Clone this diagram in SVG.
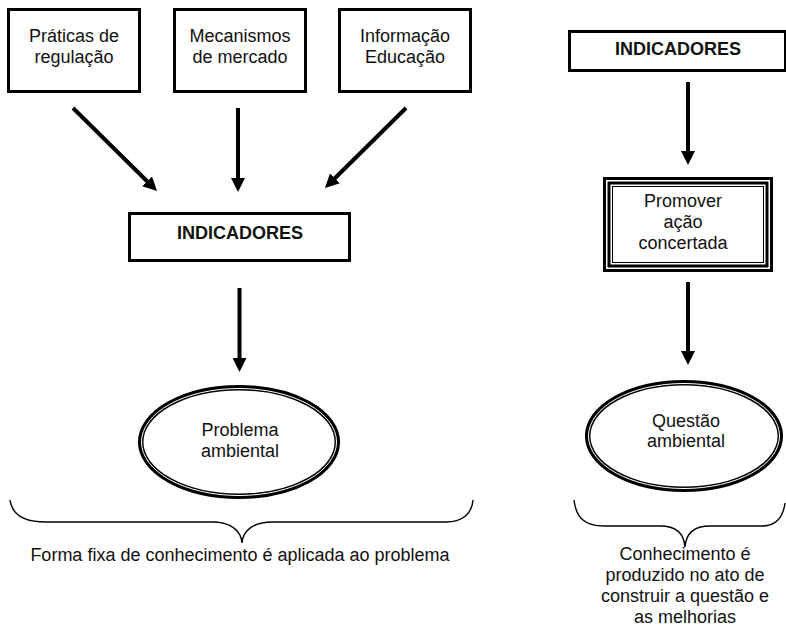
<svg xmlns="http://www.w3.org/2000/svg" width="786" height="626" viewBox="0 0 786 626">
  <style>
    .box { fill: #fff; stroke: #000; stroke-width: 3; }
    .t { font-family: "Liberation Sans", Arial, Helvetica, sans-serif; font-size: 18px; fill: #111; text-anchor: middle; }
    .b { font-weight: bold; }
    .arrow { stroke: #000; stroke-width: 4; fill: none; marker-end: url(#head); }
    .brace { fill: none; stroke: #000; stroke-width: 1.4; }
  </style>
  <defs>
    <marker id="head" markerUnits="userSpaceOnUse" markerWidth="14" markerHeight="14" refX="4" refY="7" orient="auto">
      <path d="M0,0 L14,7 L0,14 Z" fill="#000"/>
    </marker>
  </defs>
  <rect width="786" height="626" fill="#fff"/>

  <!-- left chain: three sources -->
  <g id="praticas">
    <rect class="box" x="8.5" y="9.5" width="131" height="82"/>
    <text class="t" x="74" y="42">Práticas de</text>
    <text class="t" x="74" y="63">regulação</text>
  </g>
  <g id="mecanismos">
    <rect class="box" x="174.5" y="9.5" width="131" height="82"/>
    <text class="t" x="240" y="42">Mecanismos</text>
    <text class="t" x="240" y="63">de mercado</text>
  </g>
  <g id="informacao">
    <rect class="box" x="339.5" y="9.5" width="131" height="82"/>
    <text class="t" x="405" y="42">Informação</text>
    <text class="t" x="405" y="63">Educação</text>
  </g>

  <g id="indicadores-left">
    <rect class="box" x="129.5" y="213.5" width="220" height="47"/>
    <text class="t b" x="240" y="239">INDICADORES</text>
  </g>

  <g id="problema">
    <ellipse cx="239" cy="442" rx="98.3" ry="54.3" fill="#fff" stroke="#000" stroke-width="5.5"/>
    <ellipse cx="239" cy="442" rx="97.5" ry="53.5" fill="none" stroke="#fff" stroke-width="1"/>
    <text class="t" x="240" y="436">Problema</text>
    <text class="t" x="240" y="457">ambiental</text>
  </g>

  <!-- right chain -->
  <g id="indicadores-right">
    <rect class="box" x="569.5" y="31.5" width="216" height="39"/>
    <text class="t b" x="678" y="55">INDICADORES</text>
  </g>

  <g id="promover">
    <rect x="608" y="182" width="160" height="85" fill="#fff" stroke="#000" stroke-width="10"/>
    <rect x="606.75" y="180.75" width="162.5" height="87.5" fill="none" stroke="#fff" stroke-width="1.5"/>
    <rect x="611.25" y="185.25" width="153.5" height="78.5" fill="none" stroke="#fff" stroke-width="1.5"/>
    <text class="t" x="683" y="207">Promover</text>
    <text class="t" x="683" y="228">ação</text>
    <text class="t" x="683" y="249">concertada</text>
  </g>

  <g id="questao">
    <ellipse cx="684" cy="436" rx="96.3" ry="53.3" fill="#fff" stroke="#000" stroke-width="5.5"/>
    <ellipse cx="684" cy="436" rx="95.5" ry="52.5" fill="none" stroke="#fff" stroke-width="1"/>
    <text class="t" x="686" y="427">Questão</text>
    <text class="t" x="686" y="447">ambiental</text>
  </g>

  <!-- connectors -->
  <g id="connectors">
    <line class="arrow" x1="73" y1="108" x2="149.9" y2="184"/>
    <line class="arrow" x1="238" y1="108" x2="238" y2="182"/>
    <line class="arrow" x1="406" y1="108" x2="332.1" y2="181"/>
    <line class="arrow" x1="239.5" y1="288" x2="239.5" y2="362"/>
    <line class="arrow" x1="688" y1="82" x2="688" y2="155"/>
    <line class="arrow" x1="688" y1="282" x2="688" y2="355"/>
  </g>

  <!-- braces and captions -->
  <g id="brace-left">
    <path class="brace" d="M10,500 C12,516 26,522 46,522 L212,522 C230,522 241,530 242,543 C243,530 254,522 272,522 L446,522 C462,522 472,514 473,500"/>
    <text class="t" x="240" y="561">Forma fixa de conhecimento é aplicada ao problema</text>
  </g>
  <g id="brace-right">
    <path class="brace" d="M574,500 C576,518 585,526 604,526 L660,526 C676,526 684,533 685,547 C686,533 694,526 710,526 L762,526 C776,526 783,518 785,503"/>
    <text class="t" x="685" y="560">Conhecimento é</text>
    <text class="t" x="685" y="581">produzido no ato de</text>
    <text class="t" x="685" y="602">construir a questão e</text>
    <text class="t" x="685" y="623">as melhorias</text>
  </g>
</svg>
